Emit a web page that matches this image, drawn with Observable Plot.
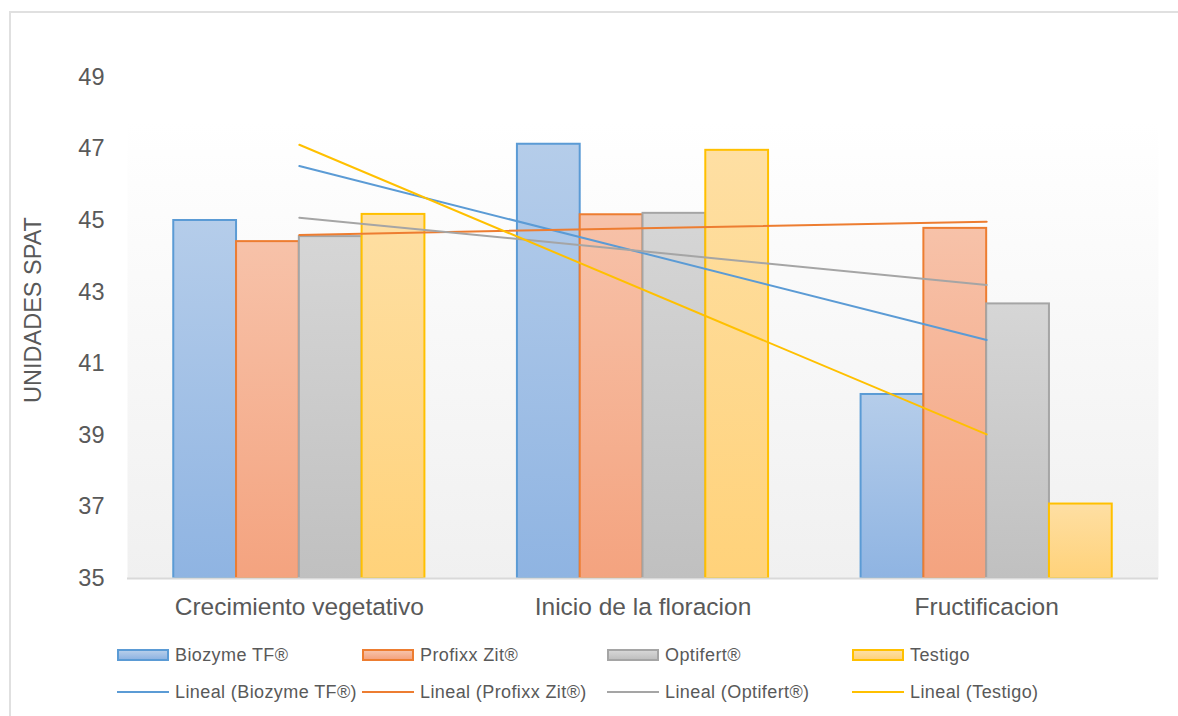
<!DOCTYPE html>
<html>
<head>
<meta charset="utf-8">
<script src="https://cdn.jsdelivr.net/npm/d3@7"></script>
<script src="https://cdn.jsdelivr.net/npm/@observablehq/plot@0.6"></script>
<style>
  html, body { margin: 0; padding: 0; background: #fff; overflow: hidden; }
  #wrap { position: relative; width: 1178px; height: 716px; font-family: "Liberation Sans", Arial, sans-serif; color: #595959; }
  #frame { position: absolute; left: 9px; top: 11px; width: 1300px; height: 800px; border: 2px solid #e0e0e0; box-sizing: border-box; }
  #chart { position: absolute; left: 0; top: 0; }
  .lg { position: absolute; font-size: 18px; letter-spacing: 0.4px; line-height: 20px; white-space: nowrap; }
  .sw { position: absolute; box-sizing: border-box; }
</style>
</head>
<body>
<div id="wrap">
  <div id="frame"></div>
  <div id="chart"></div>
  <div id="legend"></div>
</div>
<script>
const categories = ["Crecimiento vegetativo", "Inicio de la floracion", "Fructificacion"];
const series = ["Biozyme TF®", "Profixx Zit®", "Optifert®", "Testigo"];
const biozyme = [45.0, 47.13, 40.14];
const profixx = [44.41, 45.16, 44.78];
const optifert = [44.55, 45.2, 42.67];
const testigo = [45.17, 46.96, 37.08];
const yTicks = [35, 37, 39, 41, 43, 45, 47, 49];
const yLabel = "UNIDADES SPAT";

const values = [biozyme, profixx, optifert, testigo];
const strokes = ["#5b9bd5", "#ed7d31", "#a5a5a5", "#ffc000"];
const gradTop = ["#b5cdea", "#f7c2a9", "#d6d6d6", "#fedfa3"];
const gradBot = ["#8fb4e2", "#f4a37f", "#c0c0c0", "#ffd27a"];

const rows = categories.flatMap((c, i) => series.map((s, k) => ({cat: c, idx: i + 1, series: s, k, value: values[k][i]})));

const W = 1178, H = 620;
const bw = 0.1827; // bar width in category units

const barMarks = series.map((s, k) => Plot.rectY(rows.filter(d => d.k === k), {
  x1: d => d.idx + (d.k - 2) * bw,
  x2: d => d.idx + (d.k - 1) * bw,
  y1: 35,
  y2: "value",
  fill: `url(#g${k})`,
  stroke: strokes[k],
  strokeWidth: 2,
  inset: 0
}));

const chart = Plot.plot({
  width: W,
  height: H,
  marginLeft: 127,
  marginRight: 20,
  marginTop: 41,
  marginBottom: H - 578,
  style: {fontFamily: "'Liberation Sans', Arial, sans-serif", color: "#595959", background: "transparent", overflow: "visible"},
  x: {type: "linear", domain: [0.5, 3.5]},
  y: {domain: [35, 50]},
  color: {domain: series, range: strokes},
  marks: [
    Plot.frame({fill: "url(#bg)", stroke: null}),
    ...barMarks,
    Plot.ruleY([35], {stroke: "#d9d9d9", strokeWidth: 2}),
    Plot.linearRegressionY(rows, {x: "idx", y: "value", stroke: "series", ci: 0, strokeWidth: 2}),
    Plot.axisY({ticks: yTicks, tickSize: 0, tickPadding: 23, fontSize: 23.5, label: null, tickFormat: d => String(d)}),
    Plot.axisX({ticks: [1, 2, 3], tickSize: 0, tickPadding: 19, fontSize: 24.5, label: null, tickFormat: i => categories[i - 1]}),
    Plot.text([yLabel], {frameAnchor: "left", dx: -94, rotate: -90, textAnchor: "middle", fontSize: 23.5, fill: "#595959"})
  ]
});

// gradient definitions
const svgSel = d3.select(chart.tagName.toLowerCase() === "svg" ? chart : chart.querySelector("svg"));
const defs = svgSel.insert("defs", ":first-child");
const bg = defs.append("linearGradient").attr("id", "bg").attr("x1", 0).attr("y1", 0).attr("x2", 0).attr("y2", 1);
bg.append("stop").attr("offset", "0%").attr("stop-color", "#ffffff");
bg.append("stop").attr("offset", "15%").attr("stop-color", "#ffffff");
bg.append("stop").attr("offset", "100%").attr("stop-color", "#f0f0f0");
series.forEach((s, k) => {
  const g = defs.append("linearGradient").attr("id", `g${k}`).attr("x1", 0).attr("y1", 0).attr("x2", 0).attr("y2", 1);
  g.append("stop").attr("offset", "0%").attr("stop-color", gradTop[k]);
  g.append("stop").attr("offset", "100%").attr("stop-color", gradBot[k]);
});
svgSel.selectAll("text").attr("fill", "#595959");

document.getElementById("chart").appendChild(chart);

// legend
const legend = document.getElementById("legend");
const colX = [117, 362, 607, 852];
series.forEach((s, k) => {
  const sw = document.createElement("div");
  sw.className = "sw";
  sw.style.left = colX[k] + "px";
  sw.style.top = "649px";
  sw.style.width = "52px";
  sw.style.height = "12px";
  sw.style.border = `2px solid ${strokes[k]}`;
  sw.style.background = `linear-gradient(${gradTop[k]}, ${gradBot[k]})`;
  legend.appendChild(sw);
  const t = document.createElement("div");
  t.className = "lg";
  t.style.left = (colX[k] + 58) + "px";
  t.style.top = "645px";
  t.textContent = s;
  legend.appendChild(t);

  const ln = document.createElement("div");
  ln.className = "sw";
  ln.style.left = colX[k] + "px";
  ln.style.top = "691px";
  ln.style.width = "52px";
  ln.style.height = "2px";
  ln.style.background = strokes[k];
  legend.appendChild(ln);
  const t2 = document.createElement("div");
  t2.className = "lg";
  t2.style.left = (colX[k] + 58) + "px";
  t2.style.top = "682px";
  t2.textContent = `Lineal (${s})`;
  legend.appendChild(t2);
});
</script>
</body>
</html>
